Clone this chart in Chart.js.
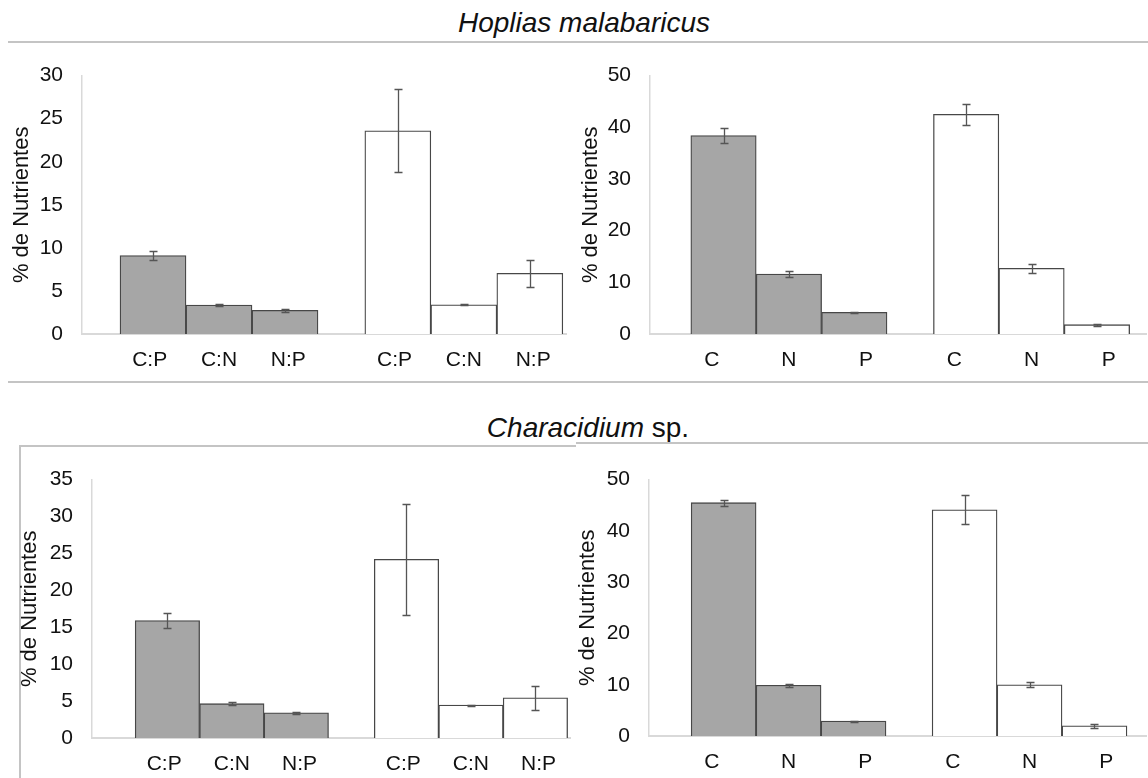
<!DOCTYPE html>
<html>
<head>
<meta charset="utf-8">
<script src="https://cdn.jsdelivr.net/npm/chart.js@4.4.1/dist/chart.umd.min.js"></script>
<style>
  html, body { margin: 0; padding: 0; background: #fff; }
  #page { position: relative; width: 1148px; height: 778px; overflow: hidden; font-family: 'Liberation Sans', Arial, sans-serif; }
  canvas { position: absolute; }
  .title { position: absolute; font-size: 28px; line-height: 28px; color: #111; white-space: nowrap; transform: translateX(-50%); }
  .rule { position: absolute; background: #c4c4c4; }
</style>
</head>
<body>
<div id="page">
  <div class="title" style="left:584px; top:9px;"><i>Hoplias malabaricus</i></div>
  <div class="title" style="left:588px; top:414px;"><i>Characidium</i> sp.</div>
  <div class="rule" style="left:8px; top:41px; width:1140px; height:2px;"></div>
  <div class="rule" style="left:8px; top:381px; width:1140px; height:2px;"></div>
  <div class="rule" style="left:20px; top:445px; width:556px; height:2px;"></div>
  <div class="rule" style="left:576px; top:442px; width:572px; height:2px;"></div>
  <div class="rule" style="left:19px; top:445px; width:2px; height:333px;"></div>
  <canvas id="hopRatio"></canvas>
  <canvas id="hopElem"></canvas>
  <canvas id="chaRatio"></canvas>
  <canvas id="chaElem"></canvas>
</div>
<script>
// =======================================================
// Data
// =======================================================
const ratioLabels = ['C:P', 'C:N', 'N:P']
const elemLabels = ['C', 'N', 'P']

// Hoplias malabaricus
const hopRatioGray = [9.1, 3.35, 2.75]
const hopRatioGrayErr = [0.55, 0.08, 0.15]
const hopRatioWhite = [23.6, 3.4, 7.05]
const hopRatioWhiteErr = [4.8, 0.05, 1.55]

const hopElemGray = [38.4, 11.6, 4.2]
const hopElemGrayErr = [1.4, 0.5, 0.1]
const hopElemWhite = [42.5, 12.7, 1.8]
const hopElemWhiteErr = [2.1, 0.8, 0.2]

// Characidium sp.
const chaRatioGray = [15.9, 4.65, 3.4]
const chaRatioGrayErr = [1.0, 0.2, 0.1]
const chaRatioWhite = [24.2, 4.45, 5.45]
const chaRatioWhiteErr = [7.5, 0.05, 1.6]

const chaElemGray = [45.5, 9.9, 2.9]
const chaElemGrayErr = [0.6, 0.3, 0.1]
const chaElemWhite = [44.1, 10.0, 2.0]
const chaElemWhiteErr = [2.8, 0.5, 0.4]

// y axis ranges
const yMaxes = [30, 50, 35, 50]
const ySteps = [5, 10, 5, 10]

// =======================================================
// Helpers
// =======================================================
const FONT = "'Liberation Sans', Arial, sans-serif"
const GAP = 0.71 // gap between the two groups, in bar widths

const errorBars = {
  id: 'errorBars',
  afterDatasetsDraw(chart) {
    const { ctx } = chart
    const y = chart.scales.y
    ctx.save()
    ctx.strokeStyle = '#555'
    ctx.lineWidth = 1.3
    chart.data.datasets.forEach((ds, di) => {
      const meta = chart.getDatasetMeta(di)
      meta.data.forEach((bar, i) => {
        const v = ds.data[i].y
        const e = ds.errors[i]
        const top = Math.round(y.getPixelForValue(v + e)) + 0.5
        const bot = Math.round(y.getPixelForValue(v - e)) + 0.5
        const x = Math.round(bar.x) + 0.5
        ctx.beginPath()
        ctx.moveTo(x, top)
        ctx.lineTo(x, bot)
        ctx.moveTo(x - 4, top)
        ctx.lineTo(x + 4, top)
        ctx.moveTo(x - 4, bot)
        ctx.lineTo(x + 4, bot)
        ctx.stroke()
      })
    })
    ctx.restore()
  },
}

function makePanel(id, box, labels, gray, grayErr, white, whiteErr, yMax, yStep) {
  const canvas = document.getElementById(id)
  canvas.width = box.w
  canvas.height = box.h
  canvas.style.left = box.x + 'px'
  canvas.style.top = box.y + 'px'

  const grayPos = gray.map((_, i) => i)
  const whitePos = white.map((_, i) => i + labels.length + GAP)
  // labels sit a little wider apart than the bars in the original
  const tickPos = grayPos.concat(whitePos).map((v, i) => v + ((i % 3) - 1) * box.spread)

  const barStyle = {
    grouped: false,
    barPercentage: 1,
    categoryPercentage: 1,
    borderColor: '#474747',
    borderWidth: 1.3,
  }

  return new Chart(canvas.getContext('2d'), {
    type: 'bar',
    data: {
      datasets: [
        {
          ...barStyle,
          data: gray.map((v, i) => ({ x: grayPos[i], y: v })),
          errors: grayErr,
          backgroundColor: '#a6a6a6',
        },
        {
          ...barStyle,
          data: white.map((v, i) => ({ x: whitePos[i], y: v })),
          errors: whiteErr,
          backgroundColor: '#ffffff',
        },
      ],
    },
    options: {
      responsive: false,
      animation: false,
      layout: { padding: { left: 0, top: box.padTop, right: box.padRight, bottom: 0 } },
      plugins: { legend: { display: false }, tooltip: { enabled: false } },
      scales: {
        x: {
          type: 'linear',
          offset: false,
          min: box.xMin,
          max: box.xMax,
          grid: { display: false, drawTicks: false },
          border: { display: true, color: '#d9d9d9', width: 2 },
          afterBuildTicks: (s) => {
            s.ticks = tickPos.map((v) => ({ value: v }))
          },
          afterFit: (s) => {
            s.height = box.xHeight
          },
          ticks: {
            autoSkip: false,
            maxRotation: 0,
            padding: 14,
            color: '#111',
            font: { family: FONT, size: 21 },
            callback: (v, i) => labels[i % labels.length],
          },
        },
        y: {
          min: 0,
          max: yMax,
          grid: { display: false, drawTicks: false },
          border: { display: true, color: '#d9d9d9', width: 1.5 },
          afterFit: (s) => {
            s.width = box.yWidth
          },
          ticks: {
            stepSize: yStep,
            padding: 19,
            color: '#111',
            font: { family: FONT, size: 21 },
          },
          title: {
            display: true,
            text: '% de Nutrientes',
            color: '#111',
            padding: { top: box.titlePad, bottom: 0 },
            font: { family: FONT, size: 22 },
          },
        },
      },
    },
    plugins: [errorBars],
  })
}

// =======================================================
// Panels
// =======================================================
makePanel('hopRatio',
  { x: 0, y: 44, w: 580, h: 336, padTop: 18, padRight: 14, yWidth: 82, xHeight: 46, xMin: -1.076, xMax: 6.258, titlePad: 9, spread: 0.05 },
  ratioLabels, hopRatioGray, hopRatioGrayErr, hopRatioWhite, hopRatioWhiteErr, yMaxes[0], ySteps[0])

makePanel('hopElem',
  { x: 570, y: 44, w: 578, h: 336, padTop: 18, padRight: 2, yWidth: 80, xHeight: 46, xMin: -1.124, xMax: 6.46, titlePad: 8, spread: 0.18 },
  elemLabels, hopElemGray, hopElemGrayErr, hopElemWhite, hopElemWhiteErr, yMaxes[1], ySteps[1])

makePanel('chaRatio',
  { x: 0, y: 448, w: 578, h: 330, padTop: 18, padRight: 8, yWidth: 92, xHeight: 40, xMin: -1.17, xMax: 6.247, titlePad: 17, spread: 0.05 },
  ratioLabels, chaRatioGray, chaRatioGrayErr, chaRatioWhite, chaRatioWhiteErr, yMaxes[2], ySteps[2])

makePanel('chaElem',
  { x: 570, y: 448, w: 578, h: 330, padTop: 17, padRight: 2, yWidth: 79, xHeight: 42, xMin: -1.149, xMax: 6.503, titlePad: 5, spread: 0.18 },
  elemLabels, chaElemGray, chaElemGrayErr, chaElemWhite, chaElemWhiteErr, yMaxes[3], ySteps[3])
</script>
</body>
</html>
